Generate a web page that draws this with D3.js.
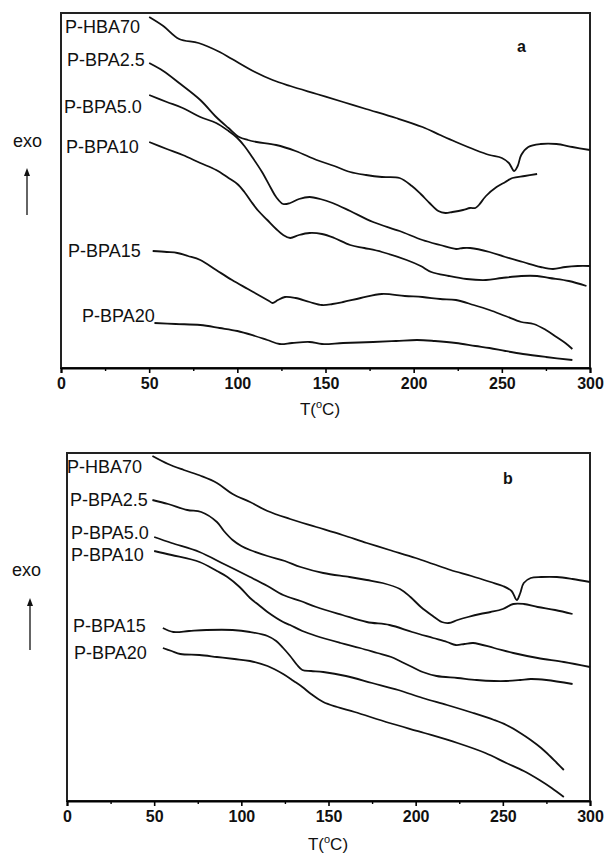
<!DOCTYPE html>
<html>
<head>
<meta charset="utf-8">
<script src="https://cdn.jsdelivr.net/npm/d3@7"></script>
<style>
  body { margin: 0; background: #fff; }
  text { font-family: "Liberation Sans", Arial, sans-serif; fill: #111; }
</style>
</head>
<body>
<svg id="chart" width="604" height="856"></svg>
<script>
// DSC curves, heat flow in arbitrary units (exo up), temperature in °C
const xTicks = [0, 50, 100, 150, 200, 250, 300];
const xMinor = [25, 75, 125, 175, 225, 275];
const seriesNames = ["P-HBA70", "P-BPA2.5", "P-BPA5.0", "P-BPA10", "P-BPA15", "P-BPA20"];

// panel a
const aHBA70 = [[50,351],[58,342],[67,329],[78,325],[90,316],[97,309],[110,296],[120,288],[130,282],[145,274],[160,266],[173,259],[190,250],[205,241],[215,233],[224,226],[235,218],[243,213],[250,210],[254,205],[257,197],[259,202],[261,213],[265,221],[272,224],[281,224],[290,221],[300,218]];
const aBPA25 = [[50,305],[58,297],[67,285],[79,268],[88,251],[95,240],[101,231],[106,228],[111,226],[122,223],[133,217],[145,208],[155,202],[164,196],[173,193],[182,191],[192,190],[199,182],[204,174],[209,165],[214,157],[218,155],[222,156],[228,158],[232,160],[235,160],[237,163],[241,172],[247,181],[252,186],[256,190],[263,192],[270,194]];
const aBPA50 = [[50,273],[60,266],[69,260],[79,251],[88,245],[95,237],[100,230],[104,222],[108,212],[114,196],[119,180],[122,171],[126,164],[130,165],[135,169],[141,171],[147,169],[154,165],[164,157],[177,146],[192,137],[205,128],[215,123],[224,119],[228,120],[232,120],[243,116],[252,111],[262,106],[272,101],[279,99],[286,101],[293,102],[300,102]];
const aBPA10 = [[50,226],[60,219],[69,213],[79,205],[88,198],[95,190],[100,184],[104,176],[108,166],[112,157],[117,148],[122,139],[126,133],[130,130],[135,133],[141,135],[148,134],[155,130],[164,123],[172,120],[182,116],[196,108],[204,102],[210,96],[220,92],[230,89],[241,88],[250,90],[261,92],[270,92],[277,90],[288,87],[298,82]];
const aBPA15 = [[52,117],[60,116],[66,115],[72,112],[79,108],[88,98],[97,88],[106,79],[114,71],[118,67],[120,65],[123,68],[127,71],[133,70],[141,66],[148,63],[154,64],[160,66],[170,70],[182,74],[195,72],[205,71],[215,69],[224,68],[234,63],[243,58],[252,52],[261,46],[268,44],[275,38],[281,31],[286,25],[290,19]];
const aBPA20 = [[53,45],[65,44],[79,43],[90,40],[100,37],[110,32],[117,28],[124,24],[131,25],[141,26],[148,24],[160,25],[177,26],[190,27],[202,28],[212,27],[224,25],[235,22],[243,20],[252,17],[262,14],[275,11],[290,8]];

// panel b
const bHBA70 = [[49,345],[58,337],[67,331],[77,325],[86,318],[95,307],[105,299],[115,290],[128,282],[143,274],[158,266],[172,258],[185,251],[200,243],[210,237],[220,231],[232,225],[243,219],[250,215],[255,210],[258,201],[260,208],[262,218],[266,223],[272,224],[281,224],[290,222],[300,219]];
const bBPA25 = [[49,301],[58,297],[69,291],[77,289],[86,279],[90,270],[95,261],[100,255],[105,251],[115,245],[125,240],[134,234],[147,228],[162,224],[172,221],[181,218],[191,212],[197,204],[203,194],[209,186],[215,179],[219,178],[224,181],[230,184],[237,187],[243,189],[250,192],[256,197],[262,197],[270,194],[280,191],[290,187]];
const bBPA50 = [[50,264],[60,258],[76,249],[90,237],[105,224],[115,215],[124,206],[134,200],[143,194],[158,186],[172,179],[185,176],[198,169],[210,163],[218,159],[223,156],[228,157],[233,158],[245,153],[256,148],[270,143],[285,139],[300,134]];
const bBPA10 = [[50,250],[60,246],[76,239],[86,230],[92,224],[99,214],[105,203],[110,196],[115,189],[124,179],[128,176],[135,170],[143,165],[157,158],[168,153],[178,148],[186,144],[192,139],[198,134],[204,129],[212,125],[224,123],[235,121],[245,120],[252,120],[260,121],[266,122],[275,121],[290,117]];
const bBPA15 = [[55,173],[61,169],[70,170],[80,171],[95,171],[105,169],[115,165],[120,160],[124,153],[128,145],[132,136],[135,131],[140,130],[147,129],[160,125],[175,118],[190,111],[204,103],[218,96],[233,88],[245,81],[252,76],[260,68],[266,61],[272,53],[277,45],[281,38],[285,31]];
const bBPA20 = [[55,153],[60,150],[65,147],[76,146],[86,144],[96,142],[105,140],[115,135],[124,127],[130,120],[135,114],[140,107],[147,99],[155,94],[165,89],[185,78],[205,68],[224,58],[240,48],[252,38],[262,30],[271,21],[278,13],[285,4]];

const svg = d3.select("#chart");

const panels = [
  {
    tag: "a", series: [aHBA70, aBPA25, aBPA50, aBPA10, aBPA15, aBPA20],
    left: 61, right: 590, top: 13, bottom: 368, yMax: 355,
    labels: [[65,33],[67,66],[64,113],[66,153],[68,257],[82,322]],
    tagPos: [517,52], exo: [13,147], arrow: [27,215,168], xLabel: [320,415]
  },
  {
    tag: "b", series: [bHBA70, bBPA25, bBPA50, bBPA10, bBPA15, bBPA20],
    left: 67, right: 590, top: 453, bottom: 801, yMax: 348,
    labels: [[67,473],[70,506],[71,539],[71,561],[73,632],[74,659]],
    tagPos: [503,484], exo: [12,576], arrow: [30,650,598], xLabel: [328,850]
  }
];

panels.forEach(p => {
  const x = d3.scaleLinear().domain([0, 300]).range([p.left, p.right]);
  const y = d3.scaleLinear().domain([0, p.yMax]).range([p.bottom, p.top]);
  const g = svg.append("g");

  // frame
  g.append("rect")
    .attr("x", p.left).attr("y", p.top)
    .attr("width", p.right - p.left).attr("height", p.bottom - p.top)
    .attr("fill", "none").attr("stroke", "#222").attr("stroke-width", 2);

  // x axis
  const ax = g.append("g").attr("transform", `translate(0,${p.bottom})`)
    .call(d3.axisBottom(x).tickValues(xTicks).tickSize(5).tickPadding(5).tickFormat(d3.format("d")));
  ax.select(".domain").attr("stroke-width", 2);
  ax.selectAll(".tick line").attr("stroke-width", 1.6);
  ax.selectAll("text")
    .style("font-size", "16px").style("font-weight", "bold")
    .style("font-family", "'Liberation Sans', Arial, sans-serif").style("fill", "#111");
  const mx = g.append("g").attr("transform", `translate(0,${p.bottom})`)
    .call(d3.axisBottom(x).tickValues(xMinor).tickSize(3).tickFormat(""));
  mx.select(".domain").remove();
  mx.selectAll(".tick line").attr("stroke-width", 1.4);

  // curves
  const line = d3.line().x(d => x(d[0])).y(d => y(d[1])).curve(d3.curveCatmullRom.alpha(0.5));
  g.selectAll("path.curve").data(p.series).enter().append("path")
    .attr("class", "curve")
    .attr("d", line)
    .attr("fill", "none").attr("stroke", "#111").attr("stroke-width", 1.8);

  // series labels
  g.selectAll("text.lbl").data(seriesNames).enter().append("text")
    .attr("class", "lbl")
    .attr("x", (d, i) => p.labels[i][0]).attr("y", (d, i) => p.labels[i][1])
    .attr("font-size", 18)
    .text(d => d);

  g.append("text").attr("x", p.tagPos[0]).attr("y", p.tagPos[1])
    .style("font-size", "16px").style("font-weight", "bold").text(p.tag);

  g.append("text").attr("x", p.exo[0]).attr("y", p.exo[1])
    .attr("font-size", 18).text("exo");

  // exo arrow
  const [ax0, ay1, ay2] = p.arrow;
  g.append("line")
    .attr("x1", ax0).attr("x2", ax0)
    .attr("y1", ay1).attr("y2", ay2 + 5)
    .attr("stroke", "#111").attr("stroke-width", 1.3);
  g.append("path")
    .attr("d", `M${ax0},${ay2} L${ax0 - 3},${ay2 + 8} L${ax0 + 3},${ay2 + 8} Z`)
    .attr("fill", "#111");

  const xl = g.append("text").attr("x", p.xLabel[0]).attr("y", p.xLabel[1])
    .attr("text-anchor", "middle").attr("font-size", 17);
  xl.append("tspan").text("T(");
  xl.append("tspan").attr("font-size", 11).attr("dy", -7).text("o");
  xl.append("tspan").attr("dy", 7).text("C)");
});
</script>
</body>
</html>
